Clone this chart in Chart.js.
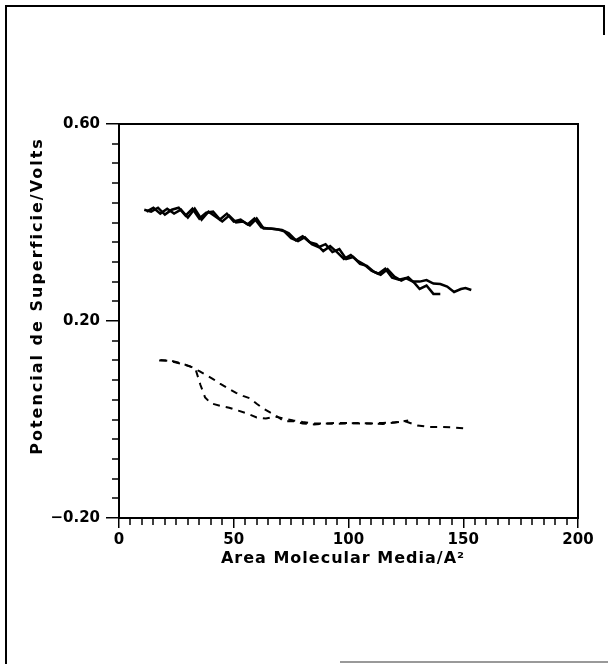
<!DOCTYPE html>
<html lang="es">
<head>
<meta charset="UTF-8">
<title>Potencial de Superficie</title>
<script src="https://cdn.jsdelivr.net/npm/chart.js@4.4.1/dist/chart.umd.min.js"></script>
<style>
  body { margin: 0; background: #fff; }
  .page { position: relative; width: 608px; height: 664px; overflow: hidden; }
  .edge { position: absolute; background: #000; }
  #chart { position: absolute; left: 0; top: 0; }
</style>
</head>
<body>
<div class="page">
  <!-- scanned page frame -->
  <div class="edge" style="left:5px; top:5px; width:600px; height:2px;"></div>
  <div class="edge" style="left:5px; top:5px; width:2px; height:659px;"></div>
  <div class="edge" style="left:603px; top:5px; width:2px; height:30px;"></div>
  <div class="edge" style="left:340px; top:661px; width:268px; height:2px; background:#999;"></div>
  <canvas id="chart" width="608" height="664"></canvas>
</div>
<script>
// two solid runs (upper curves)
const solid1X = [11, 14, 17, 20, 23, 26, 29, 32, 35, 38, 41, 44, 47, 50, 53, 56, 59, 62, 65, 68, 71, 74, 77, 80, 83, 86, 89, 92, 95, 98, 101, 104, 107, 110, 113, 116, 119, 122, 125, 128, 131, 134, 137, 140, 143, 146, 149, 151, 153.5];
const solid1Y = [0.426, 0.422, 0.430, 0.416, 0.426, 0.430, 0.414, 0.428, 0.408, 0.420, 0.422, 0.406, 0.418, 0.402, 0.406, 0.396, 0.408, 0.390, 0.388, 0.387, 0.385, 0.378, 0.364, 0.372, 0.360, 0.356, 0.342, 0.352, 0.340, 0.326, 0.334, 0.322, 0.314, 0.302, 0.296, 0.306, 0.288, 0.284, 0.287, 0.280, 0.280, 0.283, 0.276, 0.275, 0.270, 0.259, 0.265, 0.267, 0.263];
const solid2X = [12, 15, 18, 21, 24, 27, 30, 33, 36, 39, 42, 45, 48, 51, 54, 57, 60, 63, 66, 69, 72, 75, 78, 81, 84, 87, 90, 93, 96, 99, 102, 105, 108, 111, 114, 117, 120, 123, 126, 129, 131, 134, 137, 140];
const solid2Y = [0.422, 0.430, 0.418, 0.428, 0.418, 0.426, 0.410, 0.428, 0.406, 0.422, 0.412, 0.402, 0.414, 0.400, 0.402, 0.394, 0.408, 0.388, 0.388, 0.386, 0.382, 0.368, 0.362, 0.370, 0.356, 0.350, 0.356, 0.340, 0.346, 0.326, 0.330, 0.316, 0.312, 0.300, 0.294, 0.305, 0.290, 0.282, 0.289, 0.276, 0.265, 0.272, 0.255, 0.255];

// two dashed runs (lower curves)
const dash1X = [17.5, 22, 27, 31, 33.5, 35.5, 37.5, 40, 44, 48, 52, 56, 60, 64, 68, 72, 76, 80, 85, 90, 95, 100, 105, 110, 115, 120, 125, 130, 135, 140, 145, 150, 152];
const dash1Y = [0.120, 0.120, 0.114, 0.108, 0.100, 0.070, 0.045, 0.033, 0.028, 0.024, 0.018, 0.012, 0.004, 0.002, 0.006, 0.002, -0.002, -0.005, -0.008, -0.008, -0.007, -0.007, -0.008, -0.008, -0.007, -0.006, -0.004, -0.012, -0.015, -0.015, -0.016, -0.018, -0.022];
const dash2X = [18, 23, 28, 32, 35, 38, 41, 44, 48, 51, 54, 57, 60, 63, 66, 69, 72, 76, 80, 85, 90, 95, 100, 105, 110, 115, 120, 126];
const dash2Y = [0.121, 0.118, 0.112, 0.106, 0.098, 0.090, 0.082, 0.073, 0.062, 0.054, 0.048, 0.043, 0.032, 0.022, 0.014, 0.006, -0.004, -0.003, -0.008, -0.010, -0.008, -0.009, -0.008, -0.007, -0.008, -0.009, -0.006, -0.002];

// axes
const xMin = 0, xMax = 200, xMajor = 50, xMinor = 5;
const yMin = -0.2, yMax = 0.6, yMajor = 0.4, yMinor = 0.04;
const xTitle = 'Area Molecular Media/A\u00b2';
const yTitle = 'Potencial de Superficie/Volts';

function pts(xs, ys) {
  return xs.map((x, i) => ({ x: x, y: ys[i] }));
}

function line(xs, ys, dashed) {
  return {
    data: pts(xs, ys),
    borderColor: '#000',
    borderWidth: dashed ? 2 : 2.5,
    borderDash: dashed ? [7, 6] : [],
    pointRadius: 0,
    tension: 0,
    fill: false
  };
}

// minor ticks, the plot box and the two axis titles
const decorations = {
  id: 'decorations',
  afterDraw(chart) {
    const ctx = chart.ctx;
    const a = chart.chartArea;
    const sx = chart.scales.x, sy = chart.scales.y;
    ctx.save();
    ctx.strokeStyle = '#000';
    ctx.lineWidth = 1.5;
    ctx.beginPath();
    for (let i = 0; i <= (xMax - xMin) / xMinor; i++) {
      const v = xMin + i * xMinor;
      if (i % (xMajor / xMinor) === 0) continue;
      const px = Math.round(sx.getPixelForValue(v));
      ctx.moveTo(px, a.bottom);
      ctx.lineTo(px, a.bottom + 7);
    }
    const ySteps = Math.round((yMax - yMin) / yMinor);
    const yPer = Math.round(yMajor / yMinor);
    for (let i = 0; i <= ySteps; i++) {
      if (i % yPer === 0) continue;
      const py = Math.round(sy.getPixelForValue(yMin + i * yMinor));
      ctx.moveTo(a.left - 7, py);
      ctx.lineTo(a.left, py);
    }
    ctx.stroke();

    ctx.lineWidth = 2;
    ctx.strokeRect(a.left, a.top, a.right - a.left, a.bottom - a.top);

    ctx.fillStyle = '#000';
    ctx.textAlign = 'center';
    ctx.textBaseline = 'middle';
    ctx.font = 'bold 16px "DejaVu Sans"';
    ctx.letterSpacing = '1px';
    ctx.fillText(xTitle, 343, 559);
    ctx.translate(38, 296);
    ctx.rotate(-Math.PI / 2);
    ctx.letterSpacing = '2px';
    ctx.fillText(yTitle, 0, 0);
    ctx.restore();
  }
};

Chart.defaults.font.family = '"DejaVu Sans", sans-serif';
Chart.defaults.font.weight = 'bold';
Chart.defaults.font.size = 15;
Chart.defaults.color = '#000';

new Chart(document.getElementById('chart'), {
  type: 'line',
  data: {
    datasets: [
      line(solid1X, solid1Y, false),
      line(solid2X, solid2Y, false),
      line(dash1X, dash1Y, true),
      line(dash2X, dash2Y, true)
    ]
  },
  options: {
    responsive: false,
    animation: false,
    layout: { padding: { left: 0, top: 124, right: 30, bottom: 0 } },
    plugins: { legend: { display: false }, tooltip: { enabled: false } },
    scales: {
      x: {
        type: 'linear',
        min: xMin,
        max: xMax,
        afterFit(s) { s.height = 146; },
        ticks: { stepSize: xMajor, padding: 3, maxRotation: 0 },
        grid: { drawOnChartArea: false, drawTicks: true, tickLength: 10, color: '#000', lineWidth: 1.5 },
        border: { display: true, color: '#000', width: 2 }
      },
      y: {
        type: 'linear',
        min: yMin,
        max: yMax,
        afterFit(s) { s.width = 119; },
        ticks: {
          stepSize: yMajor,
          padding: 6,
          callback: v => (v < 0 ? '\u2212' : '') + Math.abs(v).toFixed(2)
        },
        grid: { drawOnChartArea: false, drawTicks: true, tickLength: 13, color: '#000', lineWidth: 1.5 },
        border: { display: true, color: '#000', width: 2 }
      }
    }
  },
  plugins: [decorations]
});
</script>
</body>
</html>
